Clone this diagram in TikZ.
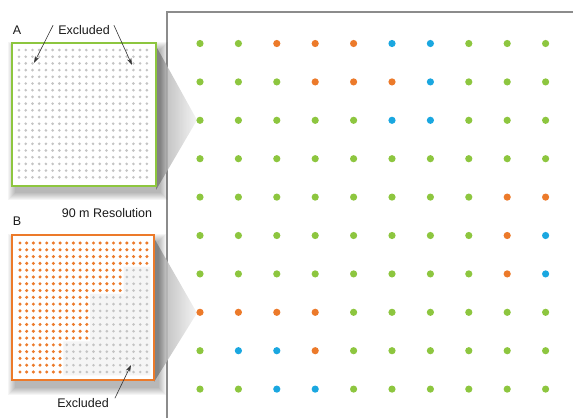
\documentclass[tikz,border=0pt]{standalone}
\usepackage{fontspec}
\setmainfont{Liberation Sans}
\usetikzlibrary{arrows.meta}
\definecolor{dotG}{HTML}{8DC63F}
\definecolor{dotO}{HTML}{EC7A2A}
\definecolor{dotB}{HTML}{1AA7E0}
\definecolor{pale}{HTML}{C4C4C4}

\begin{document}
\begin{tikzpicture}[
   x=1pt, y=-1pt,
   txt/.style={font=\fontsize{12.5}{14}\selectfont, inner sep=0pt, text=black!90},
   arrow/.style={-{Stealth[length=7pt,width=4.5pt]}, line width=0.6pt, black!80},
   frame/.style={draw=black!45, line width=1.2pt},
   panel/.style={fill=white, line width=1.6pt},
   funnel/.style={left color=black!35, right color=black!5, opacity=0.85},
   fine/.style={fill=pale}
]
\useasboundingbox (0,0) rectangle (573,418);

\draw[frame] (167,418) -- (167,12) -- (573,12);

\shade[funnel] (156,46) -- (197,120) -- (156,190) -- cycle;
\shade[funnel] (154,238) -- (197,313) -- (154,382) -- cycle;

\foreach \i in {1,...,8} {
  \fill[black, opacity=0.04] (16-\i,50-\i) rectangle (160+\i,192+\i);
  \fill[black, opacity=0.04] (16-\i,242-\i) rectangle (158+\i,387+\i);
}
\draw[panel, draw=dotG] (12,43) rectangle (156,186);
\draw[panel, draw=dotO] (12,235) rectangle (154,380);

% panel A
\begin{scope}[shift={(19,50)}, x=6.73pt, y=-6.7pt]
  \foreach \r in {0,...,19}
    \foreach \c in {0,...,19}
      \fill[fine] (\c,\r) circle (1.45pt);
\end{scope}

% panel B
\begin{scope}[shift={(20,243)}, x=6.68pt, y=-6.79pt]
  \fill[black!4] (15.5,3.5) -| (19.5,19.5) -| (6.5,14.5) -| (10.5,7.5) -| cycle;
  \foreach \r in {0,...,19}
    \foreach \c in {0,...,19} {
      \pgfmathtruncatemacro\lim{\r<4 ? 19 : (\r<8 ? 15 : (\r<15 ? 10 : 6))}
      \ifnum\c>\lim \fill[fine] (\c,\r) circle (1.45pt);
      \else \fill[dotO] (\c,\r) circle (1.7pt); \fi
    }
\end{scope}

\node[txt] (labA) at (17,30) {A};
\node[txt] (exA) at (84,30) {Excluded};
\node[txt] (res) at (107,213) {90 m Resolution};
\node[txt] (labB) at (17,221) {B};
\node[txt] (exB) at (83,403) {Excluded};

\coordinate (tA1) at (34,63);
\coordinate (tA2) at (132,65);
\coordinate (tB) at (131,365);
\draw[arrow] ([xshift=-5pt]exA.north west) -- (tA1);
\draw[arrow] ([xshift=4pt]exA.north east) -- (tA2);
\draw[arrow] ([xshift=6pt]exB.north east) -- (tB);

\foreach \row [count=\r from 0] in {
   {G,G,O,O,O,B,B,G,G,G}, {G,G,G,O,O,O,B,G,G,G},
   {G,G,G,G,G,B,B,G,G,G}, {G,G,G,G,G,G,G,G,G,G},
   {G,G,G,G,G,G,G,G,O,O}, {G,G,G,G,G,G,G,G,O,B},
   {G,G,G,G,G,G,G,G,O,B}, {O,O,O,O,G,G,G,G,G,G},
   {G,B,B,O,G,G,G,G,G,G}, {G,G,B,B,G,G,G,G,G,G}}
  \foreach \c [count=\k from 0] in \row
    \fill[fill=dot\c] (200+38.4*\k, 43.5+38.4*\r) circle (3.6pt);
\end{tikzpicture}
\end{document}
